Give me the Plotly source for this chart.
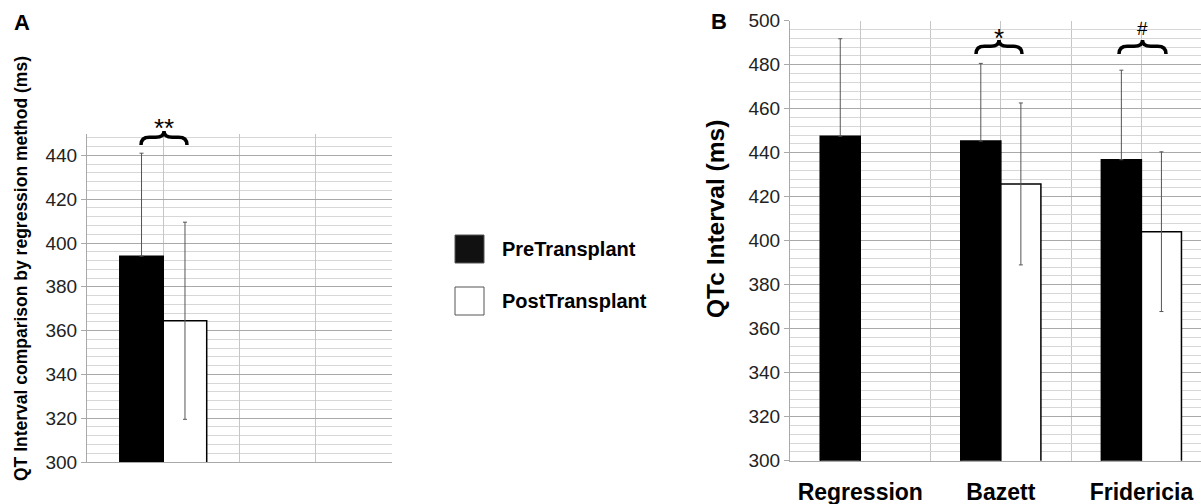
import plotly.graph_objects as go

# ---------------- data ----------------
series_names = ["PreTransplant", "PostTransplant"]

# Panel A: QT interval (regression method)
a_pre = [394]
a_pre_sd = [47]
a_post = [364.5]
a_post_sd = [45]

# Panel B: QTc interval by correction formula
b_categories = ["Regression", "Bazett", "Fridericia"]
b_pre = [447.5, 445.3, 436.8]
b_pre_sd = [44.3, 35.3, 40.7]
b_post = [None, 425.8, 404.1]
b_post_sd = [None, 36.8, 36.3]

y_ticks_a = list(range(300, 441, 20))
y_ticks_b = list(range(300, 501, 20))

title_a = "QT Interval comparison by regression method (ms)"
title_b = "QTc Interval (ms)"

W, H = 1201, 504
FONT = "Liberation Sans, Arial, sans-serif"
MAJOR = "#a9a9a9"
MINOR = "#d7d7d7"
VGRID = "#c6c6c6"
ERR = "#555555"


def px(x):
    return x / W


def py(y):
    return 1 - y / H


fig = go.Figure()

# Panel A bars
fig.add_trace(go.Bar(
    x=[0], y=a_pre, name=series_names[0],
    marker=dict(color="black", line=dict(color="black", width=1.5)),
    error_y=dict(type="data", symmetric=False, array=a_pre_sd, arrayminus=[0],
                 color=ERR, thickness=1, width=2),
    xaxis="x", yaxis="y", showlegend=False))
fig.add_trace(go.Bar(
    x=[0], y=a_post, name=series_names[1],
    marker=dict(color="white", line=dict(color="black", width=1.5)),
    error_y=dict(type="data", array=a_post_sd, color=ERR, thickness=1, width=2),
    xaxis="x", yaxis="y", showlegend=False))

# Panel B bars
xb = list(range(len(b_categories)))
fig.add_trace(go.Bar(
    x=xb, y=b_pre, name=series_names[0],
    marker=dict(color="black", line=dict(color="black", width=1.5)),
    error_y=dict(type="data", symmetric=False, array=b_pre_sd,
                 arrayminus=[0] * len(b_pre), color=ERR, thickness=1, width=2),
    xaxis="x2", yaxis="y2", showlegend=False))
fig.add_trace(go.Bar(
    x=xb, y=b_post, name=series_names[1],
    marker=dict(color="white", line=dict(color="black", width=1.5)),
    error_y=dict(type="data", array=[v if v is not None else 0 for v in b_post_sd],
                 color=ERR, thickness=1, width=2),
    xaxis="x2", yaxis="y2", showlegend=False))

# ---------------- axes ----------------
ax_common_y = dict(
    tickmode="array", showgrid=True, gridcolor=MAJOR, gridwidth=1,
    ticks="outside", ticklen=5, tickcolor=MAJOR,
    showline=True, linecolor=MAJOR, linewidth=1,
    zeroline=False, automargin=False,
    tickfont=dict(family=FONT, size=19, color="#222222"),
    minor=dict(tickmode="linear", tick0=300, dtick=4, showgrid=True,
               gridcolor=MINOR, gridwidth=1, ticks=""),
)

fig.update_layout(
    width=W, height=H, autosize=False,
    margin=dict(l=0, r=0, t=0, b=0, pad=0, autoexpand=False),
    paper_bgcolor="white", plot_bgcolor="white",
    barmode="group", bargap=0.43, bargroupgap=0,
    showlegend=False,
    font=dict(family=FONT, color="black"),
    xaxis=dict(
        domain=[px(87), px(392)], range=[-0.5, 1.5], anchor="y",
        tickmode="linear", tick0=-0.5, dtick=0.5, showticklabels=False,
        showgrid=True, gridcolor=VGRID, ticks="", zeroline=False,
        showline=True, linecolor=MAJOR, automargin=False,
    ),
    yaxis=dict(
        domain=[py(462), py(133.5)], range=[300, 450], anchor="x",
        tickvals=y_ticks_a, ticktext=[str(v) for v in y_ticks_a],
        **ax_common_y,
    ),
    xaxis2=dict(
        domain=[px(790), 1.0], range=[-0.5, 2.424], anchor="y2",
        tickmode="array", tickvals=xb, ticktext=b_categories,
        tickfont=dict(family=FONT, size=23, weight="bold", color="black"),
        showgrid=True, gridcolor=VGRID,
        ticks="outside", ticklen=11, tickcolor="rgba(0,0,0,0)",
        minor=dict(tickmode="linear", tick0=-0.5, dtick=0.5, showgrid=True,
                   gridcolor=VGRID, ticks=""),
        zeroline=False, showline=True, linecolor=MAJOR, automargin=False,
    ),
    yaxis2=dict(
        domain=[py(460.7), py(20.7)], range=[300, 500], anchor="x2",
        tickvals=y_ticks_b, ticktext=[str(v) for v in y_ticks_b],
        **ax_common_y,
    ),
)


# ---------------- braces ----------------
def brace(x0, x1, ytop, ybot):
    h = ybot - ytop
    ym = ytop + 0.45 * h
    r = h * 0.6
    xc = (x0 + x1) / 2
    pts = [
        f"M {px(x0)},{py(ybot)}",
        f"Q {px(x0)},{py(ym)} {px(x0 + r)},{py(ym)}",
        f"L {px(xc - r)},{py(ym)}",
        f"Q {px(xc)},{py(ym)} {px(xc)},{py(ytop)}",
        f"Q {px(xc)},{py(ym)} {px(xc + r)},{py(ym)}",
        f"L {px(x1 - r)},{py(ym)}",
        f"Q {px(x1)},{py(ym)} {px(x1)},{py(ybot)}",
    ]
    return dict(type="path", path=" ".join(pts), xref="paper", yref="paper",
                line=dict(color="black", width=3.5))


shapes = [
    brace(141, 187, 131, 145),
    brace(976, 1022, 40, 54),
    brace(1119, 1166, 40, 54),
    # legend swatches
    dict(type="rect", xref="paper", yref="paper", x0=px(455), x1=px(484),
         y0=py(263), y1=py(235), fillcolor="#111111", line=dict(color="#555", width=1)),
    dict(type="rect", xref="paper", yref="paper", x0=px(455), x1=px(484),
         y0=py(315), y1=py(287), fillcolor="white", line=dict(color="#555", width=1)),
]
fig.update_layout(shapes=shapes)

annotations = [
    dict(text="A", x=px(22), y=py(23), font=dict(size=22, weight="bold")),
    dict(text="B", x=px(719), y=py(22), font=dict(size=22, weight="bold")),
    dict(text="**", x=px(164), y=py(128), font=dict(size=26)),
    dict(text="*", x=px(999), y=py(38), font=dict(size=26)),
    dict(text="#", x=px(1142), y=py(28), font=dict(size=19)),
    dict(text=series_names[0], x=px(500), y=py(249), xanchor="left",
         font=dict(size=20, weight="bold")),
    dict(text=series_names[1], x=px(500), y=py(301), xanchor="left",
         font=dict(size=20, weight="bold")),
    dict(text=title_a, x=px(21), y=py(269), textangle=-90,
         font=dict(size=17.5, weight="bold")),
    dict(text=title_b, x=px(715), y=py(219), textangle=-90,
         font=dict(size=24.5, weight="bold")),
]
for a in annotations:
    a.setdefault("xanchor", "center")
    a.update(xref="paper", yref="paper", yanchor="middle", showarrow=False)
    a["font"] = dict(family=FONT, color="black", **a["font"])
fig.update_layout(annotations=annotations)

fig.write_html(
    "out.html",
    config={"displayModeBar": False, "staticPlot": True},
    post_script="document.body.style.margin='0';document.body.style.overflow='hidden';",
)
